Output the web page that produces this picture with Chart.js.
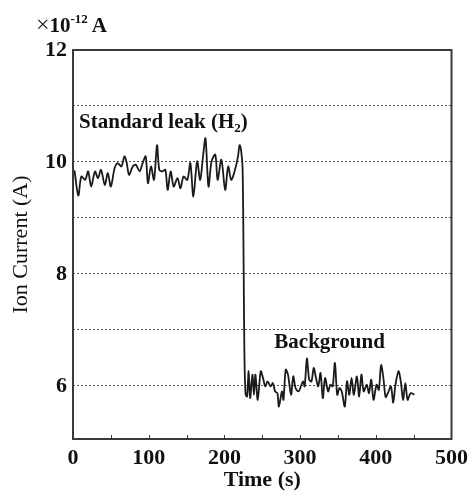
<!DOCTYPE html>
<html>
<head>
<meta charset="utf-8">
<script src="https://cdn.jsdelivr.net/npm/chart.js@4/dist/chart.umd.min.js"></script>
<style>
  body { margin: 0; background: #fff; }
  canvas { display: block; }
</style>
</head>
<body>
<canvas id="chart" width="474" height="494"></canvas>
<script>
// time in seconds, ion current in units of 1e-12 A
const times = [
  2, 7, 11, 16, 20, 24, 29, 33, 37, 42, 46, 50, 55, 59, 64, 68, 71, 74, 79, 83,
  88, 92, 96, 99, 103, 107, 111, 114, 118, 122, 125, 129, 133, 138, 142, 146, 151, 155, 159, 164,
  168, 172, 175, 179, 183, 188, 191, 196, 201, 205, 209, 214, 218, 220, 222,
  224, 225.5, 226.5, 228,
  230, 232, 234, 237, 239, 241, 244, 248, 251, 254, 257, 261, 264, 267, 270, 272, 276, 278, 281, 284,
  288, 291, 294, 298, 301, 304, 306, 309, 312, 315, 318, 321, 324, 327, 330, 333, 337, 340, 343, 346,
  349, 352, 355, 359, 362, 365, 368, 371, 375, 378, 381, 384, 388, 391, 394, 397, 401, 404, 407, 410,
  413, 416, 420, 423, 426, 430, 433, 436, 439, 442, 446, 451
];
const current = [
  9.85, 9.40, 9.74, 9.68, 9.83, 9.56, 9.83, 9.71, 9.86, 9.59, 9.80, 9.56, 9.89, 9.98, 9.92, 10.10, 9.98, 9.77, 9.92, 9.95,
  9.83, 9.98, 10.10, 9.62, 9.92, 9.68, 10.30, 9.86, 9.83, 9.86, 9.50, 9.83, 9.56, 9.71, 9.53, 9.74, 9.68, 9.98, 9.38, 10.01,
  9.68, 10.13, 10.42, 9.56, 10.01, 10.13, 9.68, 10.04, 9.50, 9.92, 9.68, 9.86, 10.10, 10.30, 10.21,
  9.90, 8.00, 6.50, 5.85,
  5.81, 6.26, 5.78, 6.20, 5.84, 6.20, 5.75, 6.26, 6.14, 5.99, 6.08, 5.99, 6.05, 5.90, 5.87, 5.63, 5.90, 5.75, 6.29, 6.20,
  5.84, 6.17, 5.96, 5.90, 5.99, 6.08, 5.99, 6.49, 6.11, 6.08, 6.32, 6.14, 5.99, 6.23, 5.78, 6.14, 5.90, 6.02, 5.99, 6.41,
  5.84, 5.96, 5.90, 5.63, 6.08, 5.84, 6.14, 5.84, 6.17, 5.81, 6.20, 5.90, 6.02, 5.87, 6.11, 5.75, 6.02, 5.93, 6.37, 6.14,
  5.80, 5.87, 5.99, 5.70, 6.02, 6.26, 6.08, 5.75, 6.05, 5.75, 5.87, 5.84
];
const yTicks = [6, 7, 8, 9, 10, 11, 12];
const yLabelTicks = [6, 8, 10, 12];
const xLabelTicks = [0, 100, 200, 300, 400, 500];

const SERIF = "'Liberation Serif', 'Times New Roman', serif";
const ink = "#111";

const overlay = {
  id: "overlay",
  afterDraw(chart) {
    const ctx = chart.ctx;
    const a = chart.chartArea;
    const xs = chart.scales.x;
    const ys = chart.scales.y;
    ctx.save();
    // frame
    ctx.strokeStyle = "#3a3a3a";
    ctx.lineWidth = 2;
    ctx.strokeRect(a.left, a.top, a.right - a.left, a.bottom - a.top);
    // inward x ticks every 50 s
    ctx.lineWidth = 1;
    for (let t = 50; t < 500; t += 50) {
      const px = Math.round(xs.getPixelForValue(t)) + 0.5;
      ctx.beginPath();
      ctx.moveTo(px, a.bottom);
      ctx.lineTo(px, a.bottom - 4);
      ctx.stroke();
    }
    ctx.fillStyle = ink;
    ctx.textBaseline = "alphabetic";
    ctx.textAlign = "left";
    // unit label
    let x = 36, y = 32;
    ctx.font = "24px " + SERIF;
    ctx.fillText("\u00d7", x, y);
    x += ctx.measureText("\u00d7").width;
    ctx.font = "bold 21px " + SERIF;
    ctx.fillText("10", x, y);
    x += ctx.measureText("10").width;
    ctx.font = "bold 13px " + SERIF;
    ctx.fillText("-12", x, y - 9);
    x += ctx.measureText("-12").width + 4;
    ctx.font = "bold 21px " + SERIF;
    ctx.fillText("A", x, y);
    // Standard leak (H2)
    x = xs.getPixelForValue(8);
    y = ys.getPixelForValue(10.61);
    ctx.font = "bold 21px " + SERIF;
    const s1 = "Standard leak (H";
    ctx.fillText(s1, x, y);
    x += ctx.measureText(s1).width;
    ctx.font = "bold 13px " + SERIF;
    ctx.fillText("2", x, y + 4);
    x += ctx.measureText("2").width;
    ctx.font = "bold 21px " + SERIF;
    ctx.fillText(")", x, y);
    // Background
    ctx.fillText("Background", xs.getPixelForValue(266), ys.getPixelForValue(6.68));
    ctx.restore();
  }
};

new Chart(document.getElementById("chart"), {
  type: "line",
  data: {
    datasets: [{
      data: times.map((t, i) => ({ x: t, y: current[i] })),
      borderColor: "#1a1a1a",
      borderWidth: 1.8,
      pointRadius: 0,
      tension: 0.3,
      fill: false
    }]
  },
  options: {
    responsive: false,
    animation: false,
    layout: { padding: { top: 50, right: 18, left: 0, bottom: 0 } },
    plugins: { legend: { display: false }, tooltip: { enabled: false } },
    scales: {
      x: {
        type: "linear",
        min: 0,
        max: 500,
        afterFit: (s) => { s.height = 55; },
        afterBuildTicks: (s) => { s.ticks = xLabelTicks.map(v => ({ value: v })); },
        grid: { display: false, drawTicks: false },
        border: { display: false },
        ticks: {
          padding: 6,
          color: ink,
          font: { family: SERIF, size: 22, weight: "bold" },
          maxRotation: 0
        },
        title: {
          display: true,
          text: "Time (s)",
          color: ink,
          font: { family: SERIF, size: 22, weight: "bold" },
          padding: { top: 0, bottom: 0 }
        }
      },
      y: {
        min: 5.05,
        max: 12,
        afterFit: (s) => { s.width = 73; },
        afterBuildTicks: (s) => { s.ticks = yTicks.map(v => ({ value: v })); },
        grid: {
          drawTicks: false,
          color: (c) => (c.tick && c.tick.value === 12 ? "rgba(0,0,0,0)" : "#555"),
          lineWidth: 1
        },
        border: { display: false, dash: [2, 2] },
        ticks: {
          padding: 6,
          color: ink,
          font: { family: SERIF, size: 22, weight: "bold" },
          callback: (v) => (yLabelTicks.includes(v) ? String(v) : "")
        },
        title: {
          display: true,
          text: "Ion Current (A)",
          color: ink,
          font: { family: SERIF, size: 22, weight: "normal" },
          padding: { top: 8, bottom: 0 }
        }
      }
    }
  },
  plugins: [overlay]
});
</script>
</body>
</html>
